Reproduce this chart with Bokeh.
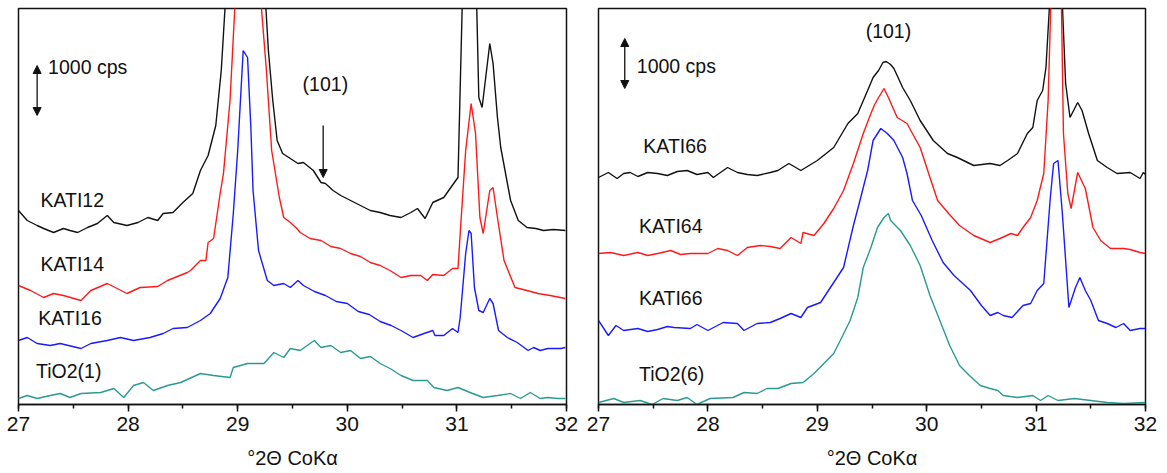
from bokeh.plotting import figure
from bokeh.models import Range1d, SingleIntervalTicker, Label, Arrow, NormalHead
from bokeh.layouts import row
from bokeh.embed import file_html
from bokeh.resources import INLINE

# ---------------- data (intensity in cps, curves vertically offset) ----------------
# Left panel
kati12_x = [27.00, 27.08, 27.17, 27.23, 27.32, 27.41, 27.47, 27.54, 27.63, 27.72,
            27.81, 27.87, 27.99, 28.09, 28.18, 28.27, 28.32, 28.41, 28.50, 28.59,
            28.66, 28.73, 28.80, 28.85, 28.90, 29.05, 29.20, 29.25, 29.28, 29.32,
            29.36, 29.41, 29.48, 29.55, 29.60, 29.69, 29.76, 29.80, 29.87, 29.94,
            30.03, 30.12, 30.21, 30.30, 30.39, 30.49, 30.58, 30.64, 30.71, 30.78,
            30.88, 30.99, 31.01, 31.06, 31.12, 31.17, 31.20, 31.23, 31.30, 31.33,
            31.37, 31.40, 31.49, 31.56, 31.64, 31.72, 31.79, 31.88, 31.99]
kati12_y = [3880, 3680, 3580, 3520, 3440, 3520, 3480, 3440, 3540, 3620,
            3780, 3640, 3580, 3640, 3740, 3680, 3820, 3840, 4040, 4220,
            4680, 4980, 5580, 6680, 8500, 12000, 9000, 8200, 7080, 6080,
            5280, 5020, 4920, 4820, 4840, 4680, 4440, 4420, 4280, 4180,
            4080, 3980, 3880, 3840, 3780, 3740, 3840, 3920, 3720, 4040,
            4140, 4480, 4540, 9000, 12000, 9000, 6140, 5940, 7220, 6820,
            5740, 5140, 4080, 3680, 3540, 3520, 3480, 3500, 3480]

kati14_x = [27.00, 27.11, 27.23, 27.32, 27.41, 27.57, 27.66, 27.81, 27.99, 28.11,
            28.27, 28.36, 28.54, 28.57, 28.66, 28.71, 28.73, 28.78, 28.84, 28.87,
            28.93, 28.98, 29.05, 29.15, 29.21, 29.26, 29.31, 29.38, 29.42, 29.48,
            29.54, 29.57, 29.66, 29.76, 29.85, 29.94, 30.03, 30.12, 30.21, 30.30,
            30.39, 30.49, 30.58, 30.67, 30.73, 30.78, 30.88, 30.96, 31.01, 31.03,
            31.08, 31.13, 31.17, 31.21, 31.24, 31.30, 31.33, 31.37, 31.43, 31.53,
            31.64, 31.74, 31.85, 31.99]
kati14_y = [2380, 2280, 2140, 2220, 2180, 2080, 2280, 2420, 2220, 2340,
            2360, 2480, 2640, 2680, 2880, 2880, 3240, 3320, 4220, 4620,
            6080, 8200, 11000, 11000, 8100, 6740, 5080, 4140, 3740, 3640,
            3520, 3440, 3320, 3280, 3160, 3120, 3020, 2960, 2840, 2780,
            2680, 2540, 2580, 2580, 2480, 2600, 2580, 2720, 2720, 3420,
            5080, 6020, 5420, 3740, 3420, 4280, 4340, 3740, 2880, 2340,
            2280, 2220, 2180, 2120]

kati16_x = [27.00, 27.08, 27.17, 27.29, 27.38, 27.57, 27.66, 27.81, 27.93, 28.05,
            28.20, 28.32, 28.41, 28.54, 28.66, 28.75, 28.84, 28.91, 28.96, 29.00,
            29.05, 29.09, 29.12, 29.14, 29.19, 29.27, 29.33, 29.42, 29.48, 29.55,
            29.60, 29.70, 29.80, 29.90, 30.00, 30.10, 30.20, 30.30, 30.40, 30.49,
            30.60, 30.70, 30.78, 30.80, 30.88, 30.96, 31.01, 31.03, 31.08, 31.11,
            31.13, 31.16, 31.20, 31.24, 31.30, 31.33, 31.38, 31.46, 31.55, 31.65,
            31.70, 31.76, 31.83, 31.95, 31.99]
kati16_y = [1280, 1340, 1220, 1180, 1220, 1120, 1220, 1280, 1340, 1280,
            1340, 1420, 1520, 1540, 1680, 1820, 2120, 2540, 3820, 5080,
            7080, 6940, 5540, 4280, 3080, 2480, 2380, 2420, 2340, 2480,
            2380, 2260, 2180, 2060, 2020, 1860, 1800, 1660, 1580, 1480,
            1340, 1420, 1480, 1380, 1380, 1520, 1440, 1740, 3020, 3480,
            3420, 2340, 1880, 1840, 2120, 2020, 1480, 1340, 1240, 1080,
            1140, 1080, 1120, 1120, 1140]

tio2_1_x = [27.00, 27.08, 27.17, 27.29, 27.38, 27.47, 27.57, 27.75, 27.87, 27.96,
            28.05, 28.14, 28.23, 28.36, 28.48, 28.66, 28.78, 28.93, 28.96, 29.09,
            29.24, 29.33, 29.42, 29.48, 29.57, 29.66, 29.70, 29.76, 29.85, 29.94,
            30.03, 30.12, 30.21, 30.30, 30.39, 30.49, 30.60, 30.73, 30.79, 30.91,
            31.01, 31.12, 31.24, 31.37, 31.49, 31.58, 31.67, 31.76, 31.83, 31.92,
            31.99]
tio2_1_y = [120, 180, 120, 180, 220, 140, 220, 240, 320, 140,
            380, 440, 280, 380, 440, 620, 580, 540, 740, 820,
            820, 1040, 940, 1120, 1080, 1220, 1280, 1140, 1180, 1040,
            1080, 920, 960, 820, 720, 580, 480, 480, 340, 280,
            340, 240, 140, 180, 220, 120, 240, 120, 140, 120,
            120]

# Right panel
kati66a_x = [27.00, 27.09, 27.17, 27.23, 27.29, 27.36, 27.45, 27.54, 27.63, 27.72,
             27.81, 27.90, 28.00, 28.05, 28.18, 28.27, 28.36, 28.45, 28.57, 28.64,
             28.74, 28.85, 29.00, 29.15, 29.28, 29.37, 29.46, 29.51, 29.56, 29.60,
             29.63, 29.67, 29.70, 29.73, 29.78, 29.85, 29.94, 30.06, 30.19, 30.28,
             30.43, 30.58, 30.67, 30.74, 30.83, 30.92, 30.97, 31.01, 31.06, 31.09,
             31.12, 31.15, 31.22, 31.24, 31.27, 31.31, 31.38, 31.42, 31.48, 31.56,
             31.65, 31.74, 31.86, 31.95, 31.98, 32.00]
kati66a_y = [4540, 4640, 4520, 4620, 4640, 4560, 4640, 4620, 4580, 4660,
             4680, 4600, 4640, 4540, 4740, 4640, 4600, 4580, 4640, 4680,
             4820, 4680, 4880, 5140, 5620, 5820, 6280, 6540, 6680, 6840,
             6860, 6800, 6720, 6580, 6340, 6080, 5680, 5280, 5020, 4940,
             4780, 4820, 4780, 4880, 5020, 5420, 5540, 6080, 6280, 6740,
             7880, 11000, 11000, 8000, 6420, 5740, 6040, 5880, 5420, 4880,
             4740, 4620, 4640, 4520, 4640, 4600]

kati64_x = [27.00, 27.11, 27.23, 27.36, 27.45, 27.54, 27.66, 27.75, 27.84, 28.00,
            28.09, 28.18, 28.27, 28.36, 28.48, 28.57, 28.66, 28.76, 28.85, 28.87,
            28.97, 29.06, 29.15, 29.19, 29.24, 29.33, 29.42, 29.49, 29.52, 29.56,
            29.61, 29.65, 29.73, 29.82, 29.94, 30.06, 30.10, 30.20, 30.30, 30.43,
            30.58, 30.67, 30.77, 30.83, 30.88, 30.95, 31.01, 31.07, 31.11, 31.16,
            31.20, 31.23, 31.25, 31.29, 31.32, 31.38, 31.45, 31.52, 31.59, 31.68,
            31.80, 31.86, 31.95, 32.00]
kati64_y = [3020, 3040, 2980, 3040, 2980, 3020, 3080, 3000, 3020, 3020,
            3120, 3080, 2980, 3140, 3180, 3160, 3120, 3340, 3220, 3440,
            3380, 3620, 3920, 4080, 4280, 4820, 5420, 5820, 5980, 6140,
            6320, 6140, 5740, 5620, 5140, 4340, 4080, 3820, 3580, 3380,
            3240, 3320, 3420, 3380, 3540, 3740, 4080, 4620, 6080, 10000,
            10000, 8200, 5420, 4220, 3920, 4640, 4320, 3540, 3280, 3120,
            3120, 3100, 3040, 3020]

kati66b_x = [27.00, 27.09, 27.16, 27.23, 27.36, 27.45, 27.54, 27.63, 27.69, 27.84,
             27.90, 28.00, 28.14, 28.27, 28.33, 28.45, 28.57, 28.66, 28.76, 28.85,
             28.91, 29.03, 29.12, 29.24, 29.33, 29.39, 29.46, 29.51, 29.58, 29.64,
             29.70, 29.78, 29.82, 29.87, 29.95, 30.05, 30.15, 30.25, 30.40, 30.50,
             30.58, 30.65, 30.70, 30.78, 30.88, 30.95, 31.01, 31.07, 31.13, 31.16,
             31.20, 31.24, 31.30, 31.36, 31.40, 31.45, 31.50, 31.57, 31.65, 31.73,
             31.80, 31.86, 31.95, 32.00]
kati66b_y = [1680, 1380, 1580, 1480, 1520, 1460, 1500, 1560, 1540, 1520,
             1600, 1480, 1640, 1620, 1480, 1620, 1640, 1720, 1820, 1740,
             1940, 2040, 2340, 2740, 3580, 4080, 4680, 5280, 5520, 5420,
             5280, 4940, 4620, 4080, 3780, 3280, 2840, 2580, 2280, 1980,
             1780, 1840, 1780, 1740, 1980, 2020, 2280, 2420, 4140, 4820,
             4880, 3820, 1940, 2340, 2540, 2280, 2080, 1680, 1620, 1540,
             1620, 1480, 1520, 1520]

tio2_6_x = [27.00, 27.14, 27.23, 27.38, 27.49, 27.59, 27.72, 27.81, 27.90, 28.02,
            28.23, 28.33, 28.45, 28.54, 28.64, 28.76, 28.87, 28.97, 29.06, 29.15,
            29.21, 29.30, 29.37, 29.42, 29.49, 29.55, 29.61, 29.65, 29.67, 29.76,
            29.85, 29.94, 30.03, 30.12, 30.21, 30.30, 30.39, 30.49, 30.58, 30.65,
            30.70, 30.83, 30.97, 31.04, 31.11, 31.20, 31.35, 31.50, 31.65, 31.80,
            32.00]
tio2_6_y = [40, 120, 40, 80, 0, 120, 80, 140, 0, 120,
            140, 240, 220, 320, 320, 420, 440, 620, 820, 1020,
            1280, 1680, 2140, 2740, 3140, 3540, 3740, 3820, 3680, 3480,
            3180, 2780, 2180, 1680, 1180, 780, 580, 380, 320, 280,
            180, 140, 180, 80, 180, 80, 120, 80, 40, 20,
            40]

x_ticks_major = 1
x_min, x_max = 27, 32
y_min, y_max = 0, 7920
scale_cps = 1000

left_series = [(kati12_x, kati12_y, "#111111"), (kati14_x, kati14_y, "#ff1a1a"),
               (kati16_x, kati16_y, "#1a1aff"), (tio2_1_x, tio2_1_y, "#2a9a92")]
right_series = [(kati66a_x, kati66a_y, "#111111"), (kati64_x, kati64_y, "#ff1a1a"),
                (kati66b_x, kati66b_y, "#1a1aff"), (tio2_6_x, tio2_6_y, "#2a9a92")]

left_labels = [("KATI12", 27.20, 4100), ("KATI14", 27.20, 2820),
               ("KATI16", 27.18, 1740), ("TiO2(1)", 27.16, 680)]
right_labels = [("KATI66", 27.41, 5180), ("KATI64", 27.37, 3580),
                ("KATI66", 27.37, 2140), ("TiO2(6)", 27.37, 620)]

FONT = "Liberation Sans"
XLABEL = "\u00b02\u0398 CoK\u03b1"


def make_panel(series, labels, frame_w, border_r, hkl_x, hkl_y, bar_x, bar_y0, cps_x, cps_y,
               hkl_arrow=None):
    p = figure(frame_width=frame_w, frame_height=396, output_backend="svg",
               toolbar_location=None, y_axis_location=None,
               x_range=Range1d(x_min, x_max), y_range=Range1d(y_min, y_max),
               min_border_left=18, min_border_right=border_r,
               min_border_top=8, min_border_bottom=69)
    p.xgrid.visible = False
    p.ygrid.visible = False
    p.outline_line_color = "#111111"
    p.outline_line_width = 1.5
    p.background_fill_color = "white"
    p.border_fill_color = "white"

    ax = p.xaxis[0]
    ax.ticker = SingleIntervalTicker(interval=x_ticks_major, num_minor_ticks=2)
    ax.major_tick_in = 0
    ax.major_tick_out = 7
    ax.minor_tick_in = 0
    ax.minor_tick_out = 4
    ax.axis_line_width = 1.5
    ax.axis_line_color = "#111111"
    ax.major_tick_line_color = "#111111"
    ax.minor_tick_line_color = "#111111"
    ax.major_tick_line_width = 1.5
    ax.minor_tick_line_width = 1.5
    ax.major_label_text_font = FONT
    ax.major_label_text_font_size = "21px"
    ax.major_label_text_color = "#111111"
    ax.major_label_standoff = 5
    ax.axis_label = XLABEL
    ax.axis_label_text_font = FONT
    ax.axis_label_text_font_size = "20px"
    ax.axis_label_text_font_style = "normal"
    ax.axis_label_text_color = "#111111"
    ax.axis_label_standoff = 13

    for xs, ys, col in series:
        p.line(xs, ys, line_color=col, line_width=1.4)

    for txt, lx, ly in labels:
        p.add_layout(Label(x=lx, y=ly, text=txt, text_font=FONT, text_font_size="19.5px",
                           text_baseline="middle", text_align="left", text_color="#111111"))

    p.add_layout(Label(x=hkl_x, y=hkl_y, text="(101)", text_font=FONT, text_font_size="19.5px",
                       text_baseline="middle", text_align="center", text_color="#111111"))
    p.add_layout(Label(x=cps_x, y=cps_y, text="1000 cps", text_font=FONT, text_font_size="19.5px",
                       text_baseline="middle", text_align="left", text_color="#111111"))

    p.add_layout(Arrow(x_start=bar_x, y_start=bar_y0, x_end=bar_x, y_end=bar_y0 + scale_cps,
                       line_width=1.3, line_color="#111111",
                       start=NormalHead(size=8, fill_color="#111111", line_color="#111111"),
                       end=NormalHead(size=8, fill_color="#111111", line_color="#111111")))
    if hkl_arrow is not None:
        ax_x, ay0, ay1 = hkl_arrow
        p.add_layout(Arrow(x_start=ax_x, y_start=ay0, x_end=ax_x, y_end=ay1,
                           line_width=1.3, line_color="#111111",
                           end=NormalHead(size=8, fill_color="#111111", line_color="#111111")))
    return p


p1 = make_panel(left_series, left_labels, 548, 14, 29.80, 6420, 27.17, 5780, 27.27, 6760,
                hkl_arrow=(29.78, 5580, 4540))
p2 = make_panel(right_series, right_labels, 547, 22, 29.65, 7480, 27.24, 6320, 27.35, 6780)

layout = row(p1, p2)
open("out.html", "w").write(file_html(layout, INLINE))
